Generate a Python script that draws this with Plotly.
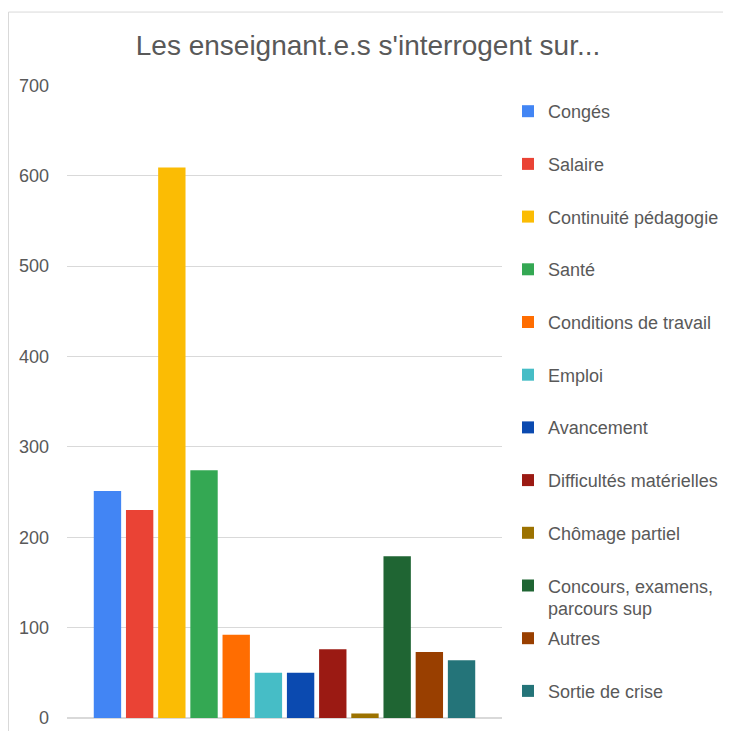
import plotly.graph_objects as go

categories = ["Congés", "Salaire", "Continuité pédagogie", "Santé", "Conditions de travail",
              "Emploi", "Avancement", "Difficultés matérielles", "Chômage partiel",
              "Concours, examens,", "Autres", "Sortie de crise"]
legend_extra_line = "parcours sup"
values = [251, 230, 609, 274, 92, 50, 50, 76, 5, 179, 73, 64]
colors = ["#4285F4", "#EA4335", "#FBBC04", "#34A853", "#FF6D01", "#46BDC6",
          "#0B4AB0", "#9B1A13", "#9C7200", "#1F6533", "#993F00", "#247479"]
y_ticks = [0, 100, 200, 300, 400, 500, 600, 700]

fig = go.Figure()
for i, (name, v, c) in enumerate(zip(categories, values, colors)):
    fig.add_trace(go.Bar(x=[""], y=[v], name=name, marker_color=c,
                         marker_line_width=0, legendgroup=f"g{i}"))

# page has an 8px body margin: figure coords = reference coords - 8
OFF = 8
W = H = 731 - OFF
L, R, T, B = 67 - OFF, 502 - OFF, 85 - OFF, 718.5 - OFF
PH = B - T
PW = R - L
fig.update_layout(
    width=W, height=H,
    margin=dict(l=L, r=W - R, t=T, b=H - B, pad=0, autoexpand=False),
    paper_bgcolor="white", plot_bgcolor="white",
    barmode="group", bargap=0.112, bargroupgap=0.15,
    font=dict(family="Liberation Sans, Arial, sans-serif", color="#595959", size=18),
    title=dict(text="Les enseignant.e.s s'interrogent sur...", x=(368 - OFF) / W, xanchor="center",
               y=1 - (45 - OFF) / H, yanchor="middle", font=dict(size=28, color="#595959")),
    legend=dict(x=(508 - OFF - L) / PW, xanchor="left", y=1 - (93 - 85) / PH, yanchor="top",
                font=dict(size=18, color="#595959"), tracegroupgap=26.3,
                itemwidth=30, traceorder="grouped", bgcolor="rgba(0,0,0,0)"),
    showlegend=True,
)
fig.update_xaxes(showticklabels=False, showgrid=False, zeroline=False, showline=False,
                 automargin=False)
fig.update_yaxes(range=[0, 700.3], tickvals=y_ticks, showgrid=True, gridcolor="#D9D9D9",
                 gridwidth=1, zeroline=True, zerolinecolor="#D9D9D9", zerolinewidth=1.5,
                 showline=False, ticks="", ticklabelstandoff=17, automargin=False,
                 tickfont=dict(size=18, color="#595959"))
fig.add_annotation(text=legend_extra_line, xref="paper", yref="paper",
                   x=(546 - OFF - L) / PW, y=(718.5 - 609) / PH, xanchor="left", yanchor="middle",
                   showarrow=False, font=dict(size=18, color="#595959"))
fig.add_shape(type="rect", xref="paper", yref="paper",
              x0=(8.5 - 67) / PW, x1=(733 - 67) / PW,
              y0=(718.5 - 733) / PH, y1=(718.5 - 12) / PH,
              line=dict(color="#D9D9D9", width=1), fillcolor="rgba(0,0,0,0)", layer="below")
fig.write_html("out.html")
